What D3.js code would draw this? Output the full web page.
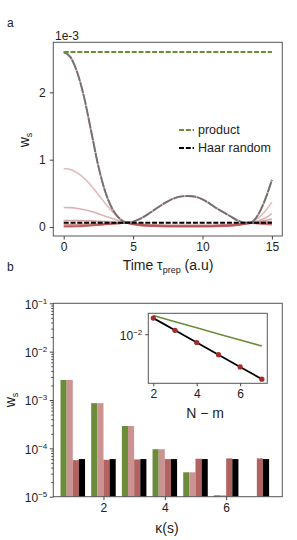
<!DOCTYPE html>
<html>
<head>
<meta charset="utf-8">
<script src="https://cdn.jsdelivr.net/npm/d3@7"></script>
<style>
  body { margin: 0; background: #fff; }
  svg { display: block; font-family: "Liberation Sans", Arial, sans-serif; }
  .axis text { font-size: 12px; fill: #222; }
  .axis path, .axis line { stroke: #444; }
</style>
</head>
<body>
<svg id="chart" width="297" height="540"></svg>
<script>
// ---- data, panel a (values in units of 1e-3) ----
const times = [0, 0.5, 1, 1.5, 2, 2.5, 3, 3.5, 4, 4.5, 5, 5.5, 6, 6.5, 7, 7.5,
  8, 8.5, 9, 9.5, 10, 10.5, 11, 11.5, 12, 12.5, 13, 13.5, 14, 14.5, 15];
const wsK1 = [2.60, 2.52, 2.28, 1.90, 1.40, 0.90, 0.52, 0.27, 0.13, 0.07, 0.08, 0.12, 0.18, 0.25, 0.32, 0.38,
  0.43, 0.455, 0.46, 0.45, 0.41, 0.35, 0.28, 0.22, 0.16, 0.10, 0.065, 0.07, 0.18, 0.40, 0.70];
const wsK2 = [0.87, 0.855, 0.80, 0.72, 0.61, 0.48, 0.35, 0.23, 0.13, 0.065, 0.035, 0.02, 0.015, 0.012, 0.01, 0.01,
  0.01, 0.01, 0.01, 0.01, 0.01, 0.01, 0.012, 0.015, 0.02, 0.03, 0.045, 0.07, 0.13, 0.23, 0.37];
const wsK3 = [0.29, 0.287, 0.275, 0.255, 0.23, 0.195, 0.16, 0.125, 0.09, 0.063, 0.045, 0.035, 0.028, 0.024, 0.022, 0.02,
  0.02, 0.02, 0.02, 0.02, 0.02, 0.021, 0.023, 0.026, 0.03, 0.038, 0.05, 0.066, 0.09, 0.13, 0.20];
const wsK4 = [0.096, 0.096, 0.095, 0.093, 0.09, 0.086, 0.081, 0.075, 0.068, 0.061, 0.05, 0.04, 0.032, 0.027, 0.024, 0.022,
  0.021, 0.02, 0.02, 0.02, 0.021, 0.022, 0.024, 0.027, 0.032, 0.04, 0.05, 0.062, 0.075, 0.095, 0.12];
const wsK5 = [0.032, 0.033, 0.035, 0.038, 0.042, 0.046, 0.05, 0.054, 0.058, 0.06, 0.05, 0.04, 0.032, 0.027, 0.024, 0.022,
  0.021, 0.02, 0.02, 0.02, 0.021, 0.022, 0.024, 0.027, 0.032, 0.04, 0.05, 0.06, 0.066, 0.072, 0.08];
const wsK6 = [0.011, 0.012, 0.015, 0.02, 0.026, 0.033, 0.04, 0.047, 0.054, 0.06, 0.045, 0.033, 0.025, 0.02, 0.016, 0.014,
  0.013, 0.012, 0.012, 0.012, 0.013, 0.014, 0.016, 0.02, 0.025, 0.033, 0.045, 0.058, 0.058, 0.056, 0.055];
const wsK7 = [0.004, 0.005, 0.008, 0.013, 0.02, 0.028, 0.036, 0.044, 0.052, 0.06, 0.04, 0.025, 0.015, 0.01, 0.007, 0.005,
  0.005, 0.005, 0.005, 0.005, 0.005, 0.005, 0.007, 0.01, 0.015, 0.025, 0.04, 0.056, 0.048, 0.04, 0.035];
const productLevel = 2.60;
const haarLevel = 0.062;
const xTicksA = [0, 5, 10, 15];
const yTicksA = [0, 1, 2];

// ---- data, panel b ----
const kappas = [1, 2, 3, 4, 5, 6, 7];
const barProduct = [2.6e-3, 8.6e-4, 2.9e-4, 9.6e-5, 3.2e-5, 1.07e-5, 3.6e-6];
const barStart   = [2.6e-3, 8.6e-4, 2.9e-4, 9.6e-5, 3.2e-5, 1.07e-5, 3.6e-6];
const barMin     = [5.7e-5, 5.8e-5, 5.9e-5, 6.0e-5, 6.1e-5, 6.2e-5, 6.2e-5];
const barHaar    = [6.0e-5, 6.0e-5, 6.0e-5, 6.0e-5, 6.0e-5, 6.0e-5, 6.0e-5];
const xTicksB = [2, 4, 6];
const yTicksB = [1e-5, 1e-4, 1e-3, 1e-2, 1e-1];
const yExpB = ["−5", "−4", "−3", "−2", "−1"];

// ---- data, inset ----
const nMinusM = [2, 3, 4, 5, 6, 7];
const insetHaar = [6.25e-2, 1.5625e-2, 3.906e-3, 9.766e-4, 2.441e-4, 6.104e-5];
const insetProduct = [8.33e-2, 4.17e-2, 2.08e-2, 1.04e-2, 5.21e-3, 2.60e-3];
const xTicksInset = [2, 4, 6];

const green = "#6b8c3a", pink = "#cc9393", darkRed = "#b36262", dotRed = "#a52a2a";
const svg = d3.select("#chart");
const intFmt = d3.format("d");

function styleAxis(g) {
  g.attr("class", "axis");
  g.select(".domain").remove();
  g.selectAll(".tick line").attr("stroke", "#444");
}
function box(x0, y0, x1, y1) {
  svg.append("rect").attr("x", x0).attr("y", y0).attr("width", x1 - x0).attr("height", y1 - y0)
    .attr("fill", "none").attr("stroke", "#555").attr("stroke-width", 1);
}
function wsLabel(x, y) {
  const t = svg.append("text").attr("transform", `translate(${x},${y}) rotate(-90)`)
    .attr("text-anchor", "middle").attr("font-size", 14).attr("fill", "#222");
  t.append("tspan").text("w");
  t.append("tspan").attr("font-size", 9).attr("dy", 3).text("s");
}

// ================= panel a =================
const A = { l: 53.3, r: 282.3, t: 42.3, b: 236 };
const xA = d3.scaleLinear().domain([-0.75, 15.75]).range([A.l, A.r]);
const yA = d3.scaleLinear().domain([-0.134, 2.744]).range([A.b, A.t]);

svg.append("clipPath").attr("id", "clipA").append("rect")
  .attr("x", A.l).attr("y", A.t).attr("width", A.r - A.l).attr("height", A.b - A.t);
const plotA = svg.append("g").attr("clip-path", "url(#clipA)");
const lineA = d3.line().x((d, i) => xA(times[i])).y(d => yA(d)).curve(d3.curveMonotoneX);

const pinkSeries = [wsK2, wsK3, wsK4, wsK5, wsK6, wsK7];
const pinkShades = ["#d7a3a3", "#d29a9a", "#c98686", "#c07272", "#b85e5e", "#b04a4a"];
pinkSeries.forEach((s, i) => {
  plotA.append("path").attr("d", lineA(s)).attr("fill", "none")
    .attr("stroke", pinkShades[i]).attr("stroke-opacity", 0.75).attr("stroke-width", 1.6);
});
plotA.append("path").attr("d", lineA(wsK1)).attr("fill", "none")
  .attr("stroke", "#e3b2b2").attr("stroke-width", 1.8);
plotA.append("path").attr("d", lineA(wsK1)).attr("fill", "none")
  .attr("stroke", "#727272").attr("stroke-width", 1.9).attr("stroke-dasharray", "11,1");

plotA.append("line").attr("x1", xA(0)).attr("x2", xA(15))
  .attr("y1", yA(productLevel)).attr("y2", yA(productLevel))
  .attr("stroke", green).attr("stroke-width", 2).attr("stroke-dasharray", "5,1.8");
plotA.append("line").attr("x1", xA(0)).attr("x2", xA(15))
  .attr("y1", yA(haarLevel)).attr("y2", yA(haarLevel))
  .attr("stroke", "#000").attr("stroke-width", 2).attr("stroke-dasharray", "5,1.8");

box(A.l, A.t, A.r, A.b);
svg.append("g").attr("transform", `translate(0,${A.b})`)
  .call(d3.axisBottom(xA).tickValues(xTicksA).tickFormat(intFmt).tickSize(3.5).tickPadding(3).tickSizeOuter(0))
  .call(styleAxis);
svg.append("g").attr("transform", `translate(${A.l},0)`)
  .call(d3.axisLeft(yA).tickValues(yTicksA).tickFormat(intFmt).tickSize(3.5).tickPadding(4).tickSizeOuter(0))
  .call(styleAxis);

svg.append("text").attr("x", 55).attr("y", 40).attr("font-size", 12).attr("fill", "#222").text("1e-3");
svg.append("text").attr("x", 7).attr("y", 27).attr("font-size", 12).attr("fill", "#222").text("a");
wsLabel(29, 140);
const xlabA = svg.append("text").attr("x", 168).attr("y", 270).attr("text-anchor", "middle")
  .attr("font-size", 14).attr("fill", "#222");
xlabA.append("tspan").text("Time τ");
xlabA.append("tspan").attr("font-size", 9).attr("dy", 3).text("prep");
xlabA.append("tspan").attr("dy", -3).text(" (a.u)");

// legend
const legend = [{ label: "product", color: green }, { label: "Haar random", color: "#000" }];
legend.forEach((d, i) => {
  const y = 130 + i * 18;
  svg.append("line").attr("x1", 179).attr("x2", 194).attr("y1", y).attr("y2", y)
    .attr("stroke", d.color).attr("stroke-width", 2).attr("stroke-dasharray", "5,1.8");
  svg.append("text").attr("x", 198).attr("y", y).attr("dy", "0.35em").attr("font-size", 12.5)
    .attr("fill", "#222").text(d.label);
});

// ================= panel b =================
const B = { l: 53.3, r: 282.3, t: 303.3, b: 496.7 };
const xB = d3.scaleLinear().domain([0.365, 7.83]).range([B.l, B.r]);
const yB = d3.scaleLog().domain([1e-5, 1e-1]).range([B.b, B.t]);
const barW = 0.2;
const barSets = [
  { vals: barProduct, off: -0.3, color: green },
  { vals: barStart, off: -0.1, color: pink },
  { vals: barMin, off: 0.1, color: darkRed },
  { vals: barHaar, off: 0.3, color: "#000" }
];
barSets.forEach(set => {
  svg.append("g").selectAll("rect")
    .data(kappas.map((k, i) => ({ k, v: set.vals[i] })).filter(d => d.v > 1e-5))
    .join("rect")
    .attr("x", d => xB(d.k + set.off - barW / 2))
    .attr("width", d => xB(d.k + set.off + barW / 2) - xB(d.k + set.off - barW / 2))
    .attr("y", d => yB(d.v))
    .attr("height", d => yB(1e-5) - yB(d.v))
    .attr("fill", set.color);
});

box(B.l, B.t, B.r, B.b);
svg.append("g").attr("transform", `translate(0,${B.b})`)
  .call(d3.axisBottom(xB).tickValues(xTicksB).tickFormat(intFmt).tickSize(3.5).tickPadding(3).tickSizeOuter(0))
  .call(styleAxis);
// minor ticks
const minorB = [];
for (let e = -5; e < -1; e++) for (let m = 2; m <= 9; m++) minorB.push(m * Math.pow(10, e));
svg.append("g").attr("transform", `translate(${B.l},0)`)
  .call(d3.axisLeft(yB).tickValues(minorB).tickSize(2).tickFormat(""))
  .call(styleAxis);
const yAxB = svg.append("g").attr("transform", `translate(${B.l},0)`)
  .call(d3.axisLeft(yB).tickValues(yTicksB).tickSize(3.5).tickPadding(4).tickSizeOuter(0).tickFormat(""))
  .call(styleAxis);
yAxB.selectAll(".tick text").each(function (d, i) {
  const t = d3.select(this).attr("x", -6).attr("dy", "0.4em");
  t.append("tspan").text("10");
  t.append("tspan").attr("font-size", 8).attr("dy", -5).text(yExpB[i]);
});
svg.append("text").attr("x", 7).attr("y", 271).attr("font-size", 12).attr("fill", "#222").text("b");
wsLabel(15, 400);
svg.append("text").attr("x", 167).attr("y", 533).attr("text-anchor", "middle")
  .attr("font-size", 14).attr("fill", "#222").text("κ(s)");

// ================= inset =================
const I = { l: 148.3, r: 267.3, t: 313.3, b: 383.3 };
const xI = d3.scaleLinear().domain([1.77, 7.25]).range([I.l, I.r]);
const yI = d3.scaleLog().domain([3.8e-5, 0.108]).range([I.b, I.t]);
svg.append("rect").attr("x", I.l).attr("y", I.t).attr("width", I.r - I.l).attr("height", I.b - I.t)
  .attr("fill", "#fff");
const lineI = d3.line().x((d, i) => xI(nMinusM[i])).y(d => yI(d));
svg.append("path").attr("d", lineI(insetProduct)).attr("fill", "none")
  .attr("stroke", green).attr("stroke-width", 1.6);
svg.append("path").attr("d", lineI(insetHaar)).attr("fill", "none")
  .attr("stroke", "#000").attr("stroke-width", 1.8);
svg.append("g").selectAll("circle").data(insetHaar).join("circle")
  .attr("cx", (d, i) => xI(nMinusM[i])).attr("cy", d => yI(d)).attr("r", 2.6)
  .attr("fill", dotRed);
box(I.l, I.t, I.r, I.b);
svg.append("g").attr("transform", `translate(0,${I.b})`)
  .call(d3.axisBottom(xI).tickValues(xTicksInset).tickFormat(intFmt).tickSize(3).tickPadding(3).tickSizeOuter(0))
  .call(styleAxis);
const yAxI = svg.append("g").attr("transform", `translate(${I.l},0)`)
  .call(d3.axisLeft(yI).tickValues([1e-2]).tickSize(3).tickPadding(4).tickFormat(""))
  .call(styleAxis);
yAxI.selectAll(".tick text").each(function () {
  const t = d3.select(this).attr("x", -6).attr("dy", "0.4em");
  t.append("tspan").text("10");
  t.append("tspan").attr("font-size", 8).attr("dy", -5).text("−2");
});
svg.append("text").attr("x", 205).attr("y", 418).attr("text-anchor", "middle")
  .attr("font-size", 14).attr("fill", "#222").text("N − m");
</script>
</body>
</html>
